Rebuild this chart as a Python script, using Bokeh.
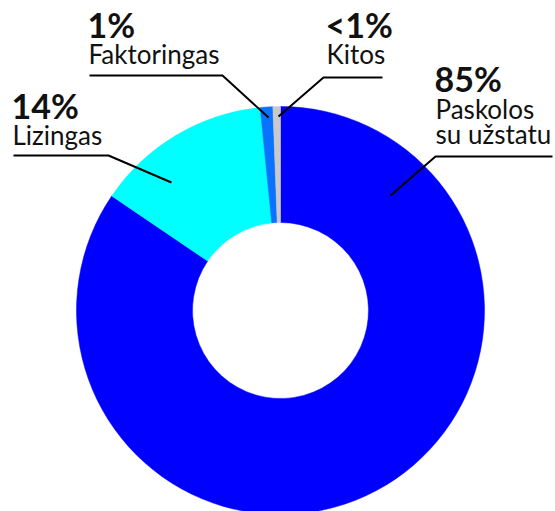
import math
from bokeh.plotting import figure
from bokeh.models import Range1d, ColumnDataSource
from bokeh.core.properties import value
from bokeh.embed import file_html
from bokeh.resources import INLINE

# ---- data ----
categories = ["Paskolos su užstatu", "Lizingas", "Faktoringas", "Kitos"]
values = [85, 14, 1, 0.6]
pct_labels = ["85%", "14%", "1%", "<1%"]
name_lines = [["Paskolos", "su užstatu"], ["Lizingas"], ["Faktoringas"], ["Kitos"]]
colors = ["#0000ff", "#00ffff", "#0a72ff", "#c9c9cc"]

W, H = 555, 511
def Y(py):
    return H - py

# ---- layout (pixel positions) ----
cx, cy = 280, Y(310)
r_out, r_in = 204, 88
PCT_SIZE, NAME_SIZE = 34, 26
label_x = [434, 11, 87, 325]
pct_base = [91, 118, 37, 37]
name_base = [[118, 143], [144], [63], [63]]
leaders = [
    [(552, 156), (435, 156), (390, 195)],
    [(13, 155), (108, 155), (171, 182)],
    [(89, 75), (222, 75), (268, 117)],
    [(382, 77), (323, 77), (278, 116)],
]
BASE_FIX = 0.38  # empirical baseline correction of the svg text

total = sum(values)
starts, ends = [], []
acc = 0.0
for v in values:
    starts.append(math.pi / 2 - acc / total * 2 * math.pi)
    acc += v
    ends.append(math.pi / 2 - acc / total * 2 * math.pi)

p = figure(width=W, height=H, output_backend="svg", toolbar_location=None,
           x_range=Range1d(0, W), y_range=Range1d(0, H),
           x_axis_type=None, y_axis_type=None, min_border=0)
p.grid.visible = False
p.outline_line_color = None
p.background_fill_color = "white"
p.border_fill_color = "white"

src = ColumnDataSource(dict(start=starts, end=ends, color=colors, cat=categories))
p.annular_wedge(x=cx, y=cy, inner_radius=r_in, outer_radius=r_out,
                start_angle="start", end_angle="end", direction="clock",
                fill_color="color", line_color="color", line_width=0.5, source=src)

for i in range(len(categories)):
    pts = leaders[i]
    p.line([q[0] for q in pts], [Y(q[1]) for q in pts], line_color="black", line_width=2)
    p.text(x=[label_x[i]], y=[Y(pct_base[i] - BASE_FIX * PCT_SIZE)], text=[pct_labels[i]],
           text_font=value("Lato"), text_font_style="bold", text_font_size=f"{PCT_SIZE}px",
           text_baseline="alphabetic", text_align="left", text_color="#111111")
    for line, b in zip(name_lines[i], name_base[i]):
        p.text(x=[label_x[i] + 1], y=[Y(b - BASE_FIX * NAME_SIZE)], text=[line],
               text_font=value("Lato"), text_font_size=f"{NAME_SIZE}px",
               text_baseline="alphabetic", text_align="left", text_color="#111111")

open("out.html", "w").write(file_html(p, INLINE))
